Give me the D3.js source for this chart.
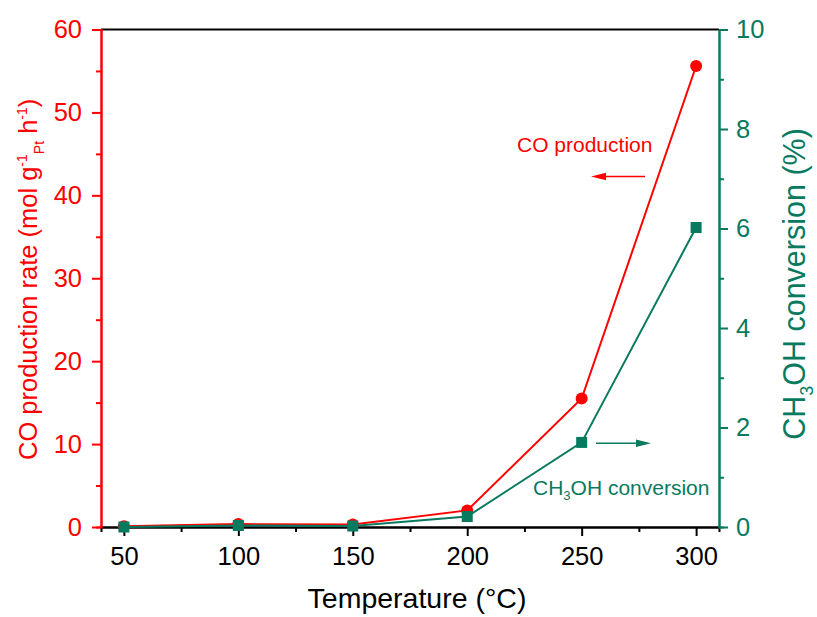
<!DOCTYPE html>
<html>
<head>
<meta charset="utf-8">
<script src="https://cdn.jsdelivr.net/npm/d3@7"></script>
<style>
  html, body { margin: 0; padding: 0; background: #fff; }
  svg { display: block; font-family: "Liberation Sans", Arial, Helvetica, sans-serif; }
</style>
</head>
<body>
<svg id="chart" width="817" height="617"></svg>
<script>
// Reaction temperature (°C)
const temperatures = [50, 100, 150, 200, 250, 300];
// CO production rate (mol g^-1_Pt h^-1)
const coRate = [0.1, 0.35, 0.3, 2.0, 15.5, 55.6];
// CH3OH conversion (%)
const methanolConversion = [0.0, 0.03, 0.02, 0.21, 1.70, 6.02];

const xMajorTicks = [50, 100, 150, 200, 250, 300];
const xMinorTicks = [75, 125, 175, 225, 275];
const leftMajorTicks = [0, 10, 20, 30, 40, 50, 60];
const leftMinorTicks = [5, 15, 25, 35, 45, 55];
const rightMajorTicks = [0, 2, 4, 6, 8, 10];
const rightMinorTicks = [1, 3, 5, 7, 9];

const RED = "#ff0000";
const TEAL = "#087a5f";

const svg = d3.select("#chart");
const plot = { left: 101, right: 719, top: 29.5, bottom: 527 };

const x = d3.scaleLinear().domain([40, 310]).range([plot.left, plot.right]);
const yLeft = d3.scaleLinear().domain([0, 60]).range([plot.bottom, plot.top]);
const yRight = d3.scaleLinear().domain([0, 10]).range([plot.bottom, plot.top]);

function styleAxis(g, color, fontSize) {
  g.select(".domain").attr("stroke", color).attr("stroke-width", 2);
  g.selectAll(".tick line").attr("stroke", color).attr("stroke-width", 2);
  g.selectAll(".tick text").attr("fill", color).attr("font-size", fontSize)
    .attr("font-family", "Liberation Sans, Arial, sans-serif");
}

// top frame line
svg.append("line")
  .attr("x1", plot.left).attr("x2", plot.right)
  .attr("y1", plot.top).attr("y2", plot.top)
  .attr("stroke", "#000").attr("stroke-width", 2);

// bottom axis
const gxMinor = svg.append("g").attr("transform", `translate(0,${plot.bottom})`)
  .call(d3.axisBottom(x).tickValues(xMinorTicks).tickSize(5).tickFormat(""));
styleAxis(gxMinor, "#000", 25);
const gx = svg.append("g").attr("transform", `translate(0,${plot.bottom})`)
  .call(d3.axisBottom(x).tickValues(xMajorTicks).tickSize(9).tickSizeOuter(0).tickPadding(11).tickFormat(d3.format("d")));
styleAxis(gx, "#000", 25.5);

// left axis (CO rate)
const gyLMinor = svg.append("g").attr("transform", `translate(${plot.left},0)`)
  .call(d3.axisLeft(yLeft).tickValues(leftMinorTicks).tickSize(5).tickFormat(""));
styleAxis(gyLMinor, RED, 25);
const gyL = svg.append("g").attr("transform", `translate(${plot.left},0)`)
  .call(d3.axisLeft(yLeft).tickValues(leftMajorTicks).tickSize(9).tickSizeOuter(0).tickPadding(10).tickFormat(d3.format("d")));
styleAxis(gyL, RED, 25.5);

// right axis (conversion)
const gyRMinor = svg.append("g").attr("transform", `translate(${plot.right},0)`)
  .call(d3.axisRight(yRight).tickValues(rightMinorTicks).tickSize(5).tickFormat(""));
styleAxis(gyRMinor, TEAL, 25);
const gyR = svg.append("g").attr("transform", `translate(${plot.right},0)`)
  .call(d3.axisRight(yRight).tickValues(rightMajorTicks).tickSize(9).tickSizeOuter(0).tickPadding(8).tickFormat(d3.format("d")));
styleAxis(gyR, TEAL, 25.5);

// series
const coPoints = temperatures.map((t, i) => [t, coRate[i]]);
const convPoints = temperatures.map((t, i) => [t, methanolConversion[i]]);

svg.append("path")
  .datum(coPoints)
  .attr("fill", "none").attr("stroke", RED).attr("stroke-width", 2)
  .attr("d", d3.line().x(d => x(d[0])).y(d => yLeft(d[1])));
svg.selectAll("circle.co").data(coPoints).enter().append("circle")
  .attr("class", "co")
  .attr("cx", d => x(d[0])).attr("cy", d => yLeft(d[1]))
  .attr("r", 6).attr("fill", RED);

svg.append("path")
  .datum(convPoints)
  .attr("fill", "none").attr("stroke", TEAL).attr("stroke-width", 2)
  .attr("d", d3.line().x(d => x(d[0])).y(d => yRight(d[1])));
const sq = 11;
svg.selectAll("rect.conv").data(convPoints).enter().append("rect")
  .attr("class", "conv")
  .attr("x", d => x(d[0]) - sq / 2).attr("y", d => yRight(d[1]) - sq / 2)
  .attr("width", sq).attr("height", sq).attr("fill", TEAL);

// axis titles
svg.append("text")
  .attr("x", 417).attr("y", 608)
  .attr("text-anchor", "middle").attr("font-size", 28.5).attr("fill", "#000")
  .text("Temperature (°C)");

const leftTitle = svg.append("text")
  .attr("transform", "translate(37,460) rotate(-90)")
  .attr("text-anchor", "start").attr("font-size", 25.5).attr("fill", RED);
leftTitle.append("tspan").text("CO production rate (mol g");
leftTitle.append("tspan").attr("font-size", 14).attr("dy", -10).text("-1");
leftTitle.append("tspan").attr("font-size", 14).attr("dy", 17).text("Pt");
leftTitle.append("tspan").attr("dy", -7).text(" h");
leftTitle.append("tspan").attr("font-size", 14).attr("dy", -10).text("-1");
leftTitle.append("tspan").attr("dy", 10).text(")");

const rightTitle = svg.append("text")
  .attr("transform", "translate(805,284) rotate(-90)")
  .attr("text-anchor", "middle").attr("font-size", 30.5).attr("fill", TEAL);
rightTitle.append("tspan").text("CH");
rightTitle.append("tspan").attr("font-size", 18).attr("dy", 8).text("3");
rightTitle.append("tspan").attr("dy", -8).text("OH conversion (%)");

// in-plot annotations with arrows pointing to each series' axis
svg.append("text")
  .attr("x", 517).attr("y", 152)
  .attr("font-size", 21).attr("fill", RED)
  .text("CO production");
svg.append("line")
  .attr("x1", 645).attr("x2", 600).attr("y1", 176.5).attr("y2", 176.5)
  .attr("stroke", RED).attr("stroke-width", 1.5);
svg.append("path")
  .attr("d", "M591,176.5 L606,172.8 L606,180.2 Z").attr("fill", RED);

const convLabel = svg.append("text")
  .attr("x", 533).attr("y", 495)
  .attr("font-size", 21).attr("fill", TEAL);
convLabel.append("tspan").text("CH");
convLabel.append("tspan").attr("font-size", 13).attr("dy", 5).text("3");
convLabel.append("tspan").attr("dy", -5).text("OH conversion");
svg.append("line")
  .attr("x1", 596).attr("x2", 641).attr("y1", 443.3).attr("y2", 443.3)
  .attr("stroke", TEAL).attr("stroke-width", 1.5);
svg.append("path")
  .attr("d", "M651,443.3 L636,439.6 L636,447 Z").attr("fill", TEAL);
</script>
</body>
</html>
